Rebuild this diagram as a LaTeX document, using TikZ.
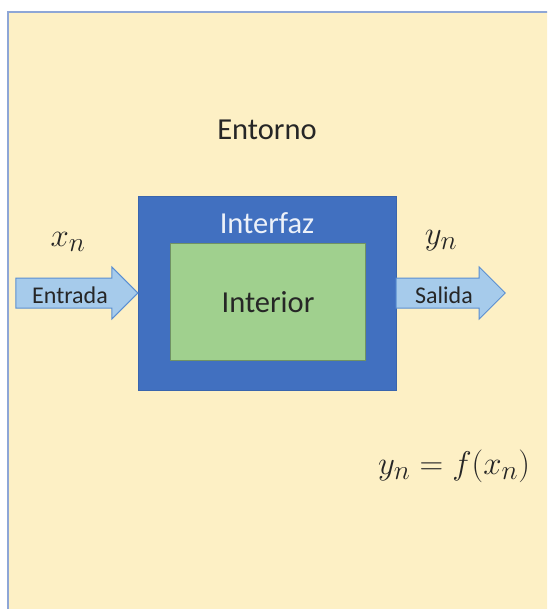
\documentclass[tikz,border=0pt]{standalone}
\usepackage{graphicx}
\usepackage{fontspec}
\setmainfont{Carlito}
\usepackage{tikz}
\usetikzlibrary{calc,positioning}
\definecolor{envfill}{HTML}{FDF0C5}
\definecolor{envline}{HTML}{8EA6D6}
\definecolor{ifaceblue}{HTML}{4170C0}
\definecolor{coregreen}{HTML}{A0D08E}
\definecolor{arrowfill}{HTML}{A6CBEB}
\definecolor{arrowline}{HTML}{5A8FD2}
\definecolor{darkgray}{HTML}{262626}
\newcommand{\bigmath}[1]{\scalebox{1.32}{\fontsize{24.88}{30}\selectfont$#1$}}
\tikzset{
  envbox/.style={draw=envline,line width=1.5pt,fill=envfill},
  ifacebox/.style={draw=ifaceblue!90!black,fill=ifaceblue,minimum width=258pt,minimum height=194pt,inner sep=0pt},
  corebox/.style={draw=coregreen!70!black,line width=0.4pt,fill=coregreen,minimum width=195pt,minimum height=117pt,inner sep=0pt},
  blockarrow/.style={draw=arrowline,line width=1pt,fill=arrowfill,line join=miter},
  bigtext/.style={text=darkgray,font=\fontsize{30.5}{36}\selectfont},
  smalltext/.style={text=darkgray,font=\fontsize{24}{28}\selectfont},
  mathtext/.style={text=darkgray}
}
\begin{document}
\begin{tikzpicture}[x=1pt,y=-1pt]
  \useasboundingbox (0,0) rectangle (547,609);
  \clip (0,0) rectangle (547,609);
  \fill[white] (0,0) rectangle (547,609);
  \draw[envbox] (8,12) rectangle (570,630);
  \node[bigtext] (env) at (267,130) {Entorno};
  % system blocks
  \node[ifacebox] (iface) at (267,293) {};
  \node[corebox] (core) at (267.5,301.5) {};
  \node[bigtext,text=white!90!ifaceblue] (ifacelbl) at (267,223) {Interfaz};
  \node[bigtext] (corelbl) at (268,302) {Interior};
  % input and output arrows
  \draw[blockarrow] (iface.west) -- ++(-26,-26) -- ++(0,11) -- ++(-96,0) -- ++(0,30)
    -- ++(96,0) -- ++(0,11) -- cycle;
  \draw[blockarrow] ($(iface.east)+(109,0)$) -- ++(-26,-26) -- ++(0,11) -- ++(-83,0) -- ++(0,30)
    -- ++(83,0) -- ++(0,11) -- cycle;
  \node[smalltext] (inlbl) at (70,295) {Entrada};
  \node[smalltext] (outlbl) at (444,295) {Salida};
  \node[mathtext] (xn) at (68,242) {\bigmath{x_n}};
  \node[mathtext] (yn) at (441,241) {\bigmath{y_n}};
  \node[mathtext] (rel) at (454,466) {\bigmath{y_n=f(x_n)}};
\end{tikzpicture}
\end{document}
